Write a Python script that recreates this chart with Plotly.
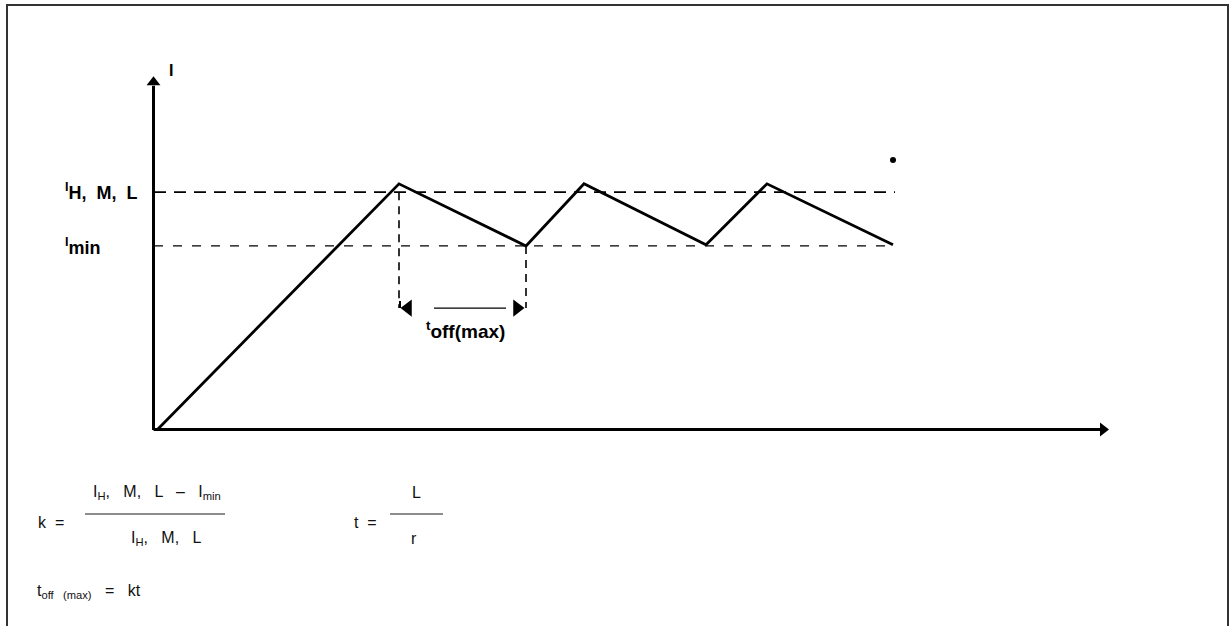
import plotly.graph_objects as go

# ---- data (time in arbitrary units, current normalised to I_H,M,L = 1) ----
t_wave = [0.0, 2.42, 3.69, 4.27, 5.49, 6.10, 7.36]
i_wave = [0.0, 1.03, 0.77, 1.03, 0.775, 1.03, 0.775]
level_names = ["IH", "Imin"]
level_values = [0.995, 0.77]
level_t_start = -0.03
level_t_end = 7.38
toff_t = [2.42, 3.69]
toff_level = 0.51
axis_t_max = 9.56
axis_i_max = 1.49
stray_dot = (7.36, 1.13)

# ---- pixel geometry helpers (figure spans the full window) ----
W, H = 1229, 626
X0, Y0 = 157, 430          # pixel of origin
SX, SY = 100.0, 239.0      # pixels per unit
def px2x(px):
    return (px - X0) / SX
def px2y(py):
    return (Y0 - py) / SY

ink = "#000000"
fig = go.Figure()

# axes
fig.add_trace(go.Scatter(x=[-0.035, -0.035], y=[0, axis_i_max - 0.05], mode="lines",
                         line=dict(color=ink, width=3), hoverinfo="skip"))
fig.add_trace(go.Scatter(x=[-0.035, axis_t_max - 0.12], y=[0.002, 0.002], mode="lines",
                         line=dict(color=ink, width=3), hoverinfo="skip"))
fig.add_trace(go.Scatter(x=[-0.035], y=[axis_i_max - 0.035], mode="markers",
                         marker=dict(symbol="triangle-up", size=12, color=ink), hoverinfo="skip"))
fig.add_trace(go.Scatter(x=[axis_t_max - 0.1], y=[0.002], mode="markers",
                         marker=dict(symbol="triangle-right", size=12, color=ink), hoverinfo="skip"))

# reference levels
fig.add_trace(go.Scatter(x=[level_t_start, level_t_end], y=[level_values[0]] * 2, mode="lines",
                         line=dict(color=ink, width=1.7, dash="12px,8px"), hoverinfo="skip"))
fig.add_trace(go.Scatter(x=[level_t_start, level_t_end], y=[level_values[1]] * 2, mode="lines",
                         line=dict(color=ink, width=1.3, dash="9px,10px"), hoverinfo="skip"))

# current waveform
fig.add_trace(go.Scatter(x=t_wave, y=i_wave, mode="lines",
                         line=dict(color=ink, width=2.8), hoverinfo="skip"))

# t_off(max) construction lines
fig.add_trace(go.Scatter(x=[toff_t[0], toff_t[0]], y=[level_values[0], toff_level], mode="lines",
                         line=dict(color=ink, width=1.6, dash="8px,6px"), hoverinfo="skip"))
fig.add_trace(go.Scatter(x=[toff_t[1], toff_t[1]], y=[level_values[1], toff_level], mode="lines",
                         line=dict(color=ink, width=1.6, dash="8px,6px"), hoverinfo="skip"))
fig.add_trace(go.Scatter(x=[toff_t[0] + 0.35, toff_t[1] - 0.2], y=[toff_level] * 2, mode="lines",
                         line=dict(color=ink, width=1.2), hoverinfo="skip"))
fig.add_trace(go.Scatter(x=[toff_t[0] + 0.09, toff_t[1] - 0.09], y=[toff_level] * 2, mode="markers",
                         marker=dict(symbol=["triangle-left", "triangle-right"], size=15, color=ink),
                         hoverinfo="skip"))
fig.add_trace(go.Scatter(x=[toff_t[0] + 0.01, toff_t[0] + 0.01], y=[toff_level + 0.03, toff_level],
                         mode="lines", line=dict(color=ink, width=2), hoverinfo="skip"))

# stray dot
fig.add_trace(go.Scatter(x=[stray_dot[0]], y=[stray_dot[1]], mode="markers",
                         marker=dict(symbol="circle", size=6, color=ink), hoverinfo="skip"))

lab = dict(family="Liberation Sans, Arial, sans-serif", size=18, color=ink)
form = dict(family="Liberation Sans, Arial, sans-serif", size=16, color="#111111")

ann = []
def A(px, py, text, font, xanchor="center", size=None):
    f = dict(font)
    if size:
        f["size"] = size
    ann.append(dict(x=px2x(px), y=px2y(py), text=text, showarrow=False,
                    font=f, xanchor=xanchor, yanchor="middle"))

A(171, 70, "<b>I</b>", lab, size=16)
A(63, 191, "<b><sup>I</sup>H,  M,  L</b>", lab, "left")
A(63, 246, "<b><sup>I</sup>min</b>", lab, "left")
A(465, 330, "<b><sup>t</sup>off(max)</b>", lab, size=19)

# formulas
A(36, 522, "k  =", form, "left")
A(157, 492, "I<sub>H</sub>,   M,   L   –   I<sub>min</sub>", form)
A(166, 538, "I<sub>H</sub>,   M,   L", form)
A(352, 522, "t  =", form, "left")
A(416, 492, "L", form)
A(414, 538, "r", form)
A(35, 591, "t<sub>off   (max)</sub>   =   kt", form, "left")

shapes = [
    dict(type="line", xref="x", yref="y", x0=px2x(85), x1=px2x(225), y0=px2y(514), y1=px2y(514),
         line=dict(color="#666666", width=1.3)),
    dict(type="line", xref="x", yref="y", x0=px2x(390), x1=px2x(443), y0=px2y(514), y1=px2y(514),
         line=dict(color="#666666", width=1.3)),
    dict(type="rect", xref="paper", yref="paper", x0=7 / W, x1=1228 / W, y0=-0.05, y1=1 - 5 / H,
         line=dict(color="#333333", width=2), fillcolor="rgba(0,0,0,0)"),
]

fig.update_layout(
    width=W, height=H,
    margin=dict(l=0, r=0, t=0, b=0),
    paper_bgcolor="white", plot_bgcolor="white",
    showlegend=False,
    xaxis=dict(range=[px2x(0), px2x(W)], visible=False, fixedrange=True),
    yaxis=dict(range=[px2y(H), px2y(0)], visible=False, fixedrange=True),
    annotations=ann, shapes=shapes,
)

fig.write_html("out.html", config={"displayModeBar": False},
               post_script="document.body.style.margin='0';document.body.style.overflow='hidden';")
